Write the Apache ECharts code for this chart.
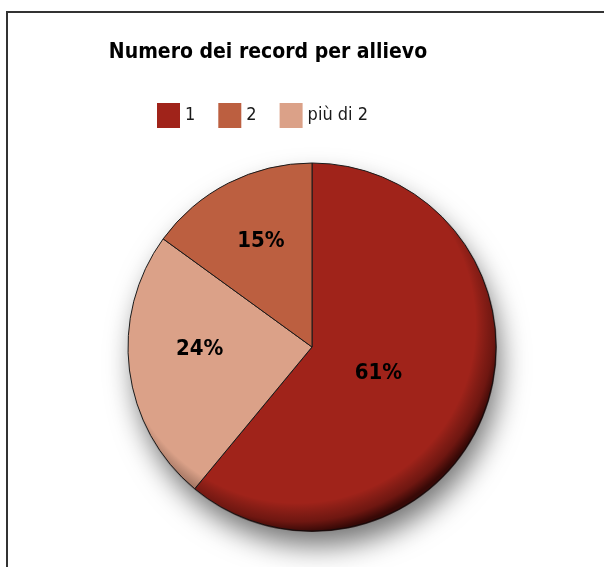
<!DOCTYPE html>
<html>
<head>
<meta charset="utf-8">
<script src="https://cdn.jsdelivr.net/npm/echarts@6/dist/echarts.min.js"></script>
<style>
    body { margin: 0; background: #fff; overflow: hidden; }
    #wrap { position: relative; width: 604px; height: 567px; }
    #frame { position: absolute; left: 6px; top: 11px; width: 700px; height: 700px; border: 2px solid #333; }
    #main { position: absolute; left: 0; top: 0; width: 604px; height: 567px; }
</style>
</head>
<body>
<div id="wrap">
    <div id="frame"></div>
    <div id="main"></div>
</div>
<script>
// categories in legend order
const legendNames = ['1', '2', 'più di 2'];
// slice order as drawn clockwise from the top
const sliceNames = ['1', 'più di 2', '2'];
const sliceValues = [61, 24, 15];
const colorMap = { '1': '#A0231A', '2': '#BC5F40', 'più di 2': '#DBA188' };
// nudges for the percentage labels
const labelShift = { '1': [-23, -6], 'più di 2': [-18, -10], '2': [-8, -21] };

const FONT = '"Liberation Sans Narrow", "DejaVu Sans Condensed", "Liberation Sans", sans-serif';

let myChart = echarts.init(document.getElementById('main'), null, { renderer: 'canvas' });

let total = sliceValues.reduce((a, b) => a + b, 0);

let pieData = sliceNames.map((name, i) => ({
    name: name,
    value: sliceValues[i],
    itemStyle: { color: colorMap[name] },
    label: { offset: labelShift[name] }
}));

let option = {
    backgroundColor: 'transparent',
    title: {
        text: 'Numero dei record per allievo',
        left: 263,
        textAlign: 'center',
        top: 37,
        textStyle: { fontFamily: FONT, fontWeight: 'bold', fontSize: 21, color: '#000' }
    },
    legend: {
        data: legendNames.map(n => ({ name: n, itemStyle: { color: colorMap[n], borderWidth: 0 } })),
        top: 98,
        left: 152,
        itemWidth: 23,
        itemHeight: 25,
        itemGap: 23,
        icon: 'rect',
        selectedMode: false,
        itemStyle: { borderWidth: 0, shadowBlur: 0 },
        textStyle: { fontFamily: FONT, fontSize: 18, color: '#1a1a1a', fontWeight: 'normal' }
    },
    series: [
        {
            // drop shadow under the whole disc
            type: 'pie',
            center: [312, 347],
            radius: [0, 183],
            silent: true,
            z: 1,
            label: { show: false },
            labelLine: { show: false },
            itemStyle: {
                color: '#A0231A',
                shadowBlur: 28,
                shadowColor: 'rgba(0,0,0,0.55)',
                shadowOffsetX: 5,
                shadowOffsetY: 16
            },
            data: [{ name: 'shadow', value: total }]
        },
        {
            type: 'pie',
            center: [312, 347],
            radius: [0, 184],
            startAngle: 90,
            clockwise: true,
            silent: true,
            z: 2,
            itemStyle: {
                borderColor: '#1a1a1a',
                borderWidth: 1
            },
            label: {
                show: true,
                position: 'inside',
                formatter: '{c}%',
                fontFamily: FONT,
                fontWeight: 'bold',
                fontSize: 22,
                color: '#000'
            },
            labelLine: { show: false },
            data: pieData
        },
        {
            // bevel shading over the pie edge
            type: 'pie',
            center: [312, 347],
            radius: [0, 185],
            silent: true,
            z: 5,
            label: { show: false },
            labelLine: { show: false },
            itemStyle: {
                color: new echarts.graphic.RadialGradient(0.46, 0.44, 0.56, [
                    { offset: 0, color: 'rgba(0,0,0,0)' },
                    { offset: 0.86, color: 'rgba(0,0,0,0)' },
                    { offset: 0.95, color: 'rgba(20,0,0,0.35)' },
                    { offset: 1, color: 'rgba(20,0,0,0.75)' }
                ])
            },
            data: [{ name: 'bevel', value: total }]
        }
    ]
};
myChart.setOption(option);
</script>
</body>
</html>
